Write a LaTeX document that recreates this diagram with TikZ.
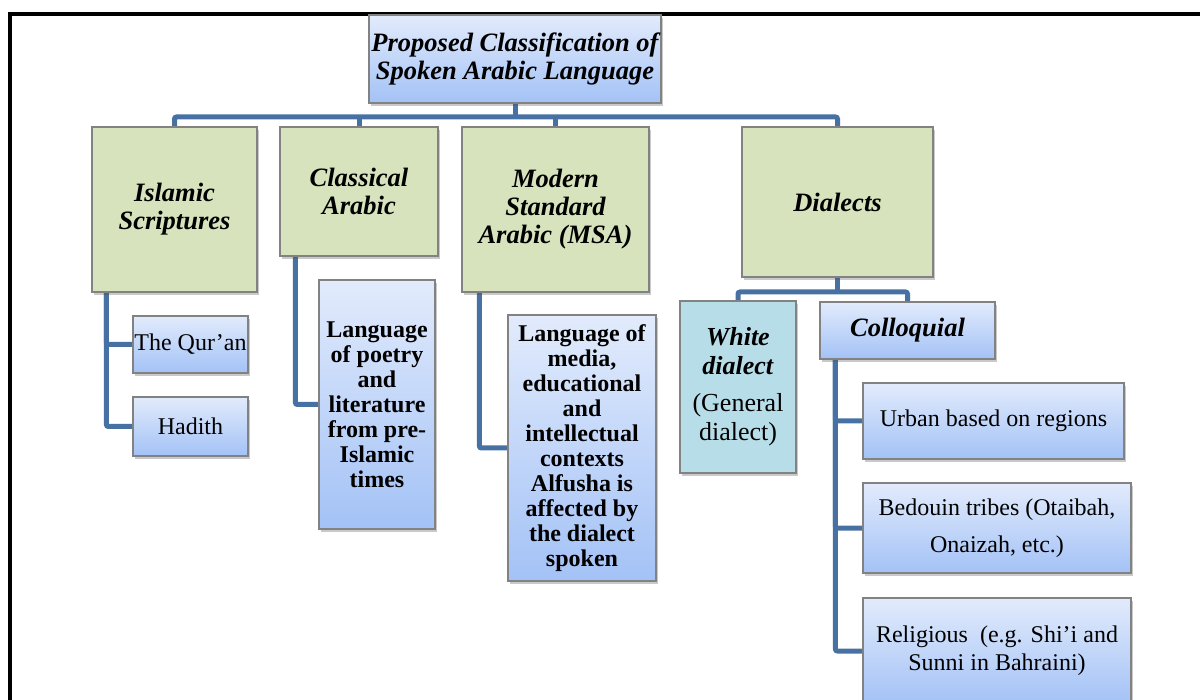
\documentclass[tikz,border=0pt]{standalone}
\usepackage{fontspec}
\setmainfont{Liberation Serif}
\usetikzlibrary{shadows,backgrounds}
\definecolor{connc}{RGB}{72,113,163}
\definecolor{greenf}{RGB}{214,227,188}
\definecolor{tealf}{RGB}{183,222,232}
\definecolor{btop}{RGB}{226,235,252}
\definecolor{bbot}{RGB}{163,194,246}
\definecolor{edgec}{RGB}{130,130,130}
\tikzset{
  box/.style={draw=edgec, line width=1.2pt, inner sep=1pt, align=center,
    drop shadow={shadow xshift=2pt, shadow yshift=-3pt, opacity=0.3, fill=black!70}},
  greenbox/.style={box, fill=greenf, font=\fontsize{26.5}{28}\selectfont\bfseries\itshape},
  bluebox/.style={box, top color=btop, bottom color=bbot},
  conn/.style={draw=connc, line width=5pt, rounded corners=2pt},
  frame/.style={draw=black, line width=4pt},
}
\begin{document}
\begin{tikzpicture}[x=1pt,y=-1pt]
\useasboundingbox (0,0) rectangle (1200,700);
% frame
\draw[frame] (1210,14) -- (10,14) -- (10,710);

% top
\node[bluebox, minimum width=292, minimum height=88, font=\fontsize{26.5}{27.5}\selectfont\bfseries\itshape]
  (title) at (515,59) {Proposed Classification of\\Spoken Arabic Language};

% level 1
\node[greenbox, minimum width=165, minimum height=165] (isl) at (174.5,209.5) {Islamic\\Scriptures};
\node[greenbox, minimum width=158, minimum height=129] (cls) at (359,191.5) {Classical\\Arabic};
\node[greenbox, minimum width=187, minimum height=165] (msa) at (555.5,209.5) {Modern\\Standard\\Arabic (MSA)};
\node[greenbox, minimum width=191, minimum height=150] (dia) at (837.5,202) {Dialects};

% Islamic children
\node[bluebox, minimum width=115, minimum height=57, font=\fontsize{24}{26}\selectfont] (quran) at (190.5,344.5) {The Qur’an};
\node[bluebox, minimum width=115, minimum height=59, font=\fontsize{24}{26}\selectfont] (hadith) at (190.5,426.5) {Hadith};

% Classical child
\node[bluebox, minimum width=116, minimum height=249, font=\fontsize{24}{25}\selectfont\bfseries] (clsc) at (377,404.5)
  {Language\\of poetry\\and\\literature\\from pre-\\Islamic\\times};

% MSA child
\node[bluebox, minimum width=148, minimum height=266, font=\fontsize{24}{25}\selectfont\bfseries] (msac) at (582,448)
  {Language of\\media,\\educational\\and\\intellectual\\contexts\\Alfusha is\\affected by\\the dialect\\spoken};

% Dialect children
\node[box, fill=tealf, minimum width=116, minimum height=172, font=\fontsize{26}{29}\selectfont] (white) at (738,387)
  {\textbf{\textit{White}}\\\textbf{\textit{dialect}}\\[8pt](General\\dialect)};
\node[bluebox, minimum width=175, minimum height=57, font=\fontsize{26.5}{28}\selectfont\bfseries\itshape] (col) at (907.5,330.5) {Colloquial};

% Colloquial children
\node[bluebox, minimum width=261, minimum height=76, font=\fontsize{24}{26}\selectfont] (urban) at (993.5,421) {Urban based on regions};
\node[bluebox, minimum width=268, minimum height=90, font=\fontsize{24}{37}\selectfont] (bed) at (997,528) {Bedouin tribes (Otaibah,\\Onaizah, etc.)};
\node[bluebox, minimum width=268, minimum height=106, font=\fontsize{24}{28}\selectfont] (rel) at (997,651) {Religious\ \ (e.g. Shi’i and\\Sunni in Bahraini)};

\begin{scope}[on background layer]
\coordinate (bus) at (0,117);
\coordinate (dbus) at (0,292);
\draw[conn] (title.south) -- (title.south |- bus);
\draw[conn] (isl.north) -- (isl.north |- bus) -- (dia.north |- bus) -- (dia.north);
\draw[conn] (cls.north) -- (cls.north |- bus);
\draw[conn] (msa.north) -- (msa.north |- bus);

\coordinate (isls) at ([xshift=15pt]isl.south west);
\draw[conn] (isls) |- (quran.west);
\draw[conn] (isls) |- (hadith.west);

\coordinate (clss) at ([xshift=16pt]cls.south west);
\draw[conn] (clss) |- (clsc.west);

\coordinate (msas) at ([xshift=18pt]msa.south west);
\draw[conn] (msas) |- (msac.west);

\draw[conn] (dia.south) -- (dia.south |- dbus);
\draw[conn] (white.north) -- (white.north |- dbus) -- (col.north |- dbus) -- (col.north);

\coordinate (cols) at ([xshift=16pt]col.south west);
\draw[conn] (cols) |- (urban.west);
\draw[conn] (cols) |- (bed.west);
\draw[conn] (cols) |- (rel.west);
\end{scope}
\end{tikzpicture}
\end{document}
